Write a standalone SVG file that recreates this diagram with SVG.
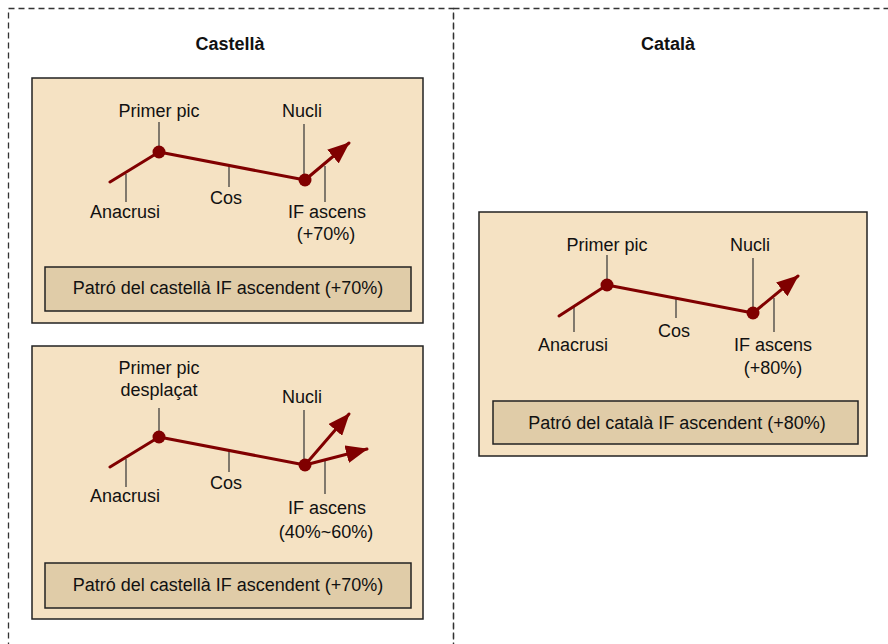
<svg xmlns="http://www.w3.org/2000/svg" width="888" height="644" viewBox="0 0 888 644">
<defs>
<style>
text{font-family:"Liberation Sans",Arial,sans-serif;font-size:18px;fill:#111;text-anchor:middle}
.title{font-weight:bold}
.cluster{fill:none;stroke:#333;stroke-width:1.3;stroke-dasharray:6 4}
.card{fill:#f5e2c3;stroke:#222;stroke-width:1.5}
.cap{fill:#e0cca8;stroke:#222;stroke-width:1.5}
.curve{fill:none;stroke:#800000;stroke-width:3;stroke-linecap:round;stroke-linejoin:round}
.tick{stroke:#333;stroke-width:1.2}
.dot{fill:#800000}
</style>
<marker id="ah" markerUnits="userSpaceOnUse" markerWidth="22" markerHeight="18" viewBox="0 0 22 18" refX="21" refY="9" orient="auto">
<path d="M0,0 L22,9 L0,18 z" fill="#800000"/>
</marker>
</defs>
<g id="cluster-castella">
<rect class="cluster" x="8.5" y="8.5" width="445" height="650"/>
<text class="title" x="230" y="50">Castellà</text>
</g>
<g id="cluster-catala">
<rect class="cluster" x="453.5" y="8.5" width="450" height="650"/>
<text class="title" x="668" y="50">Català</text>
</g>

<g id="node-castella-1">
<rect class="card" x="32" y="78" width="391" height="245"/>
<text x="159" y="117">Primer pic</text>
<text x="302" y="117">Nucli</text>
<text x="125" y="218">Anacrusi</text>
<text x="226" y="204">Cos</text>
<text x="327" y="218">IF ascens</text>
<text x="326" y="240">(+70%)</text>
<rect class="cap" x="45" y="267" width="366" height="44"/>
<text x="228" y="294">Patró del castellà IF ascendent (+70%)</text>
</g>

<g id="node-castella-2">
<rect class="card" x="32" y="346" width="391" height="273"/>
<text x="159" y="374">Primer pic</text>
<text x="159" y="396">desplaçat</text>
<text x="302" y="403">Nucli</text>
<text x="125" y="502">Anacrusi</text>
<text x="226" y="489">Cos</text>
<text x="327" y="514">IF ascens</text>
<text x="326" y="538">(40%~60%)</text>
<rect class="cap" x="45" y="563" width="366" height="45"/>
<text x="228" y="591">Patró del castellà IF ascendent (+70%)</text>
</g>

<g id="node-catala">
<rect class="card" x="479" y="212" width="388" height="244"/>
<text x="607" y="251">Primer pic</text>
<text x="750" y="251">Nucli</text>
<text x="573" y="351">Anacrusi</text>
<text x="674" y="337">Cos</text>
<text x="773" y="351">IF ascens</text>
<text x="773" y="374">(+80%)</text>
<rect class="cap" x="493" y="401" width="365" height="43"/>
<text x="677" y="429">Patró del català IF ascendent (+80%)</text>
</g>

<g id="connectors">
<!-- box 1 -->
<line class="tick" x1="159" y1="122" x2="159" y2="152"/>
<line class="tick" x1="304" y1="124" x2="304" y2="180"/>
<line class="tick" x1="126" y1="174" x2="126" y2="202"/>
<line class="tick" x1="229" y1="166" x2="229" y2="187"/>
<line class="tick" x1="325" y1="166" x2="325" y2="202"/>
<polyline class="curve" points="110,182 159,152 305,180"/>
<line class="curve" x1="305" y1="180" x2="349" y2="143" marker-end="url(#ah)"/>
<circle class="dot" cx="159" cy="152" r="6.5"/>
<circle class="dot" cx="305" cy="180" r="6.5"/>
<!-- box 2 -->
<line class="tick" x1="159" y1="408" x2="159" y2="437"/>
<line class="tick" x1="304" y1="410" x2="304" y2="465"/>
<line class="tick" x1="126" y1="459" x2="126" y2="487"/>
<line class="tick" x1="229" y1="450" x2="229" y2="472"/>
<line class="tick" x1="325" y1="460" x2="325" y2="494"/>
<polyline class="curve" points="110,467 159,437 305,465"/>
<line class="curve" x1="305" y1="465" x2="349" y2="414" marker-end="url(#ah)"/>
<line class="curve" x1="305" y1="465" x2="367" y2="449" marker-end="url(#ah)"/>
<circle class="dot" cx="159" cy="437" r="6.5"/>
<circle class="dot" cx="305" cy="465" r="6.5"/>
<!-- box 3 -->
<line class="tick" x1="607" y1="255" x2="607" y2="285"/>
<line class="tick" x1="753" y1="258" x2="753" y2="313"/>
<line class="tick" x1="574" y1="306" x2="574" y2="332"/>
<line class="tick" x1="676" y1="298" x2="676" y2="318"/>
<line class="tick" x1="774" y1="298" x2="774" y2="332"/>
<polyline class="curve" points="559,316 607,285 753,313"/>
<line class="curve" x1="753" y1="313" x2="798" y2="276" marker-end="url(#ah)"/>
<circle class="dot" cx="607" cy="285" r="6.5"/>
<circle class="dot" cx="753" cy="313" r="6.5"/>
</g>
</svg>
